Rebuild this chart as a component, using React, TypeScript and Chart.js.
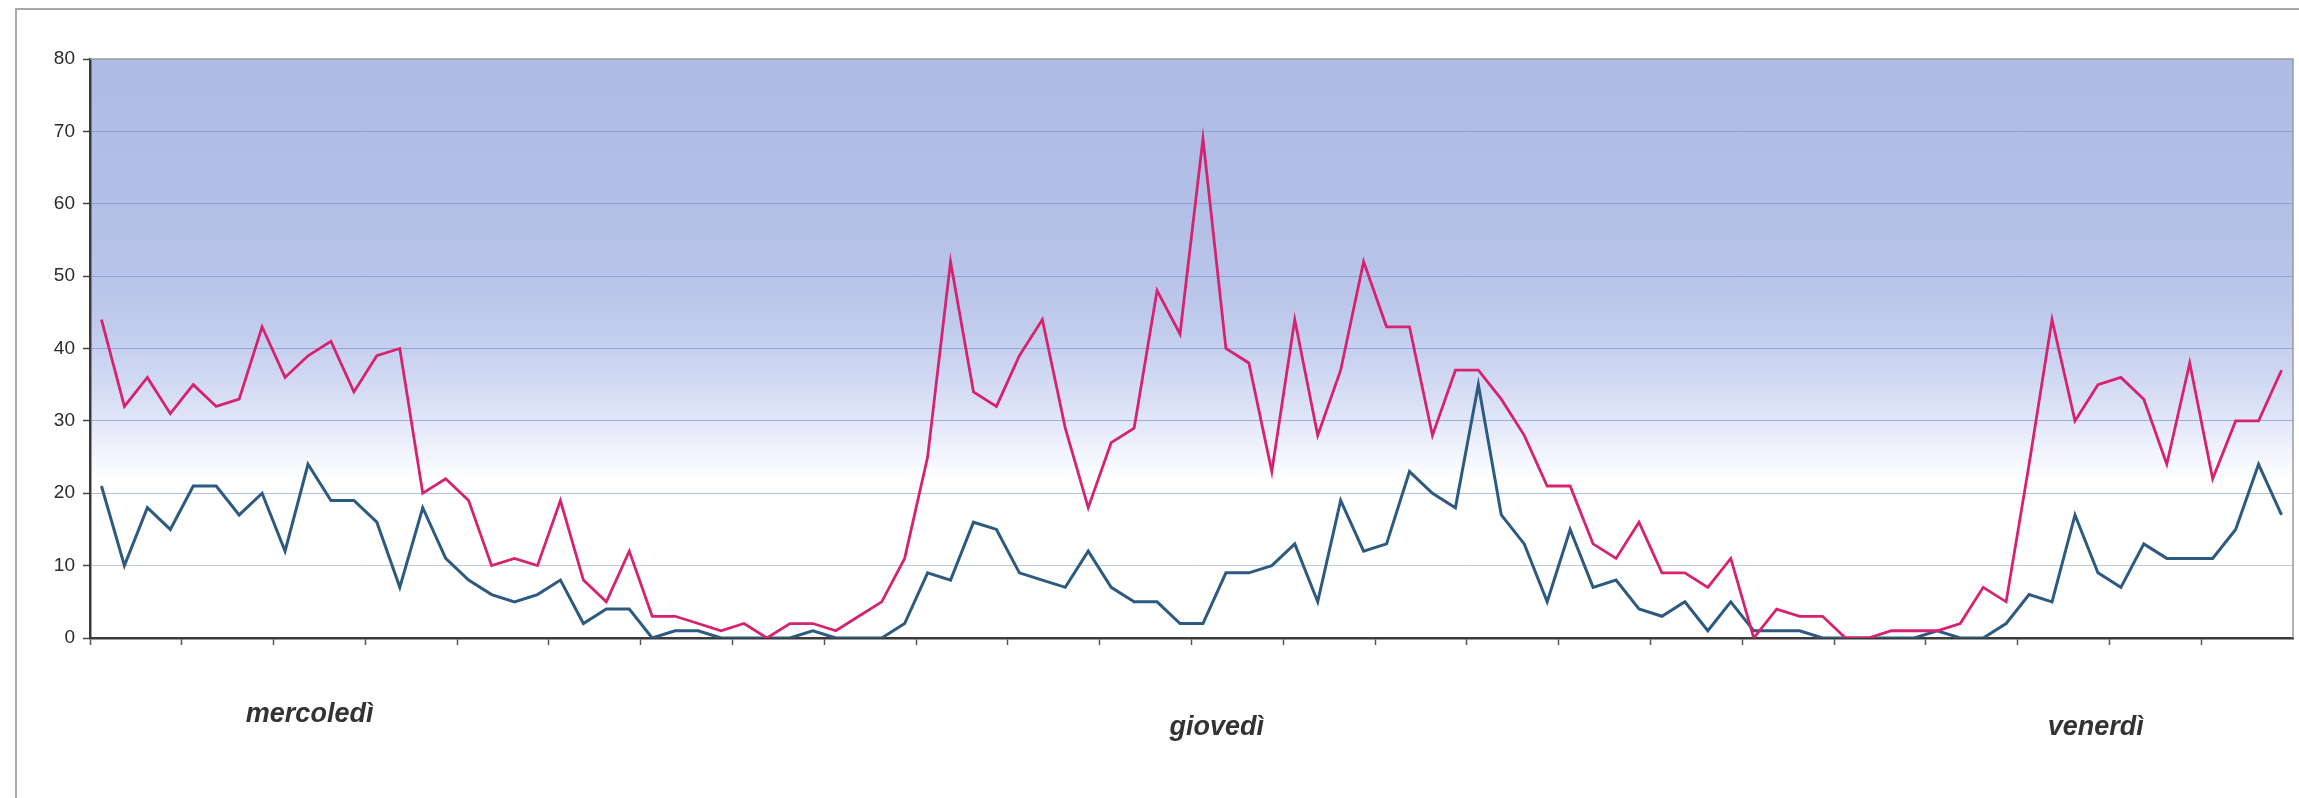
import React, { useEffect, useRef } from "react";
import { Chart, registerables } from "chart.js";

Chart.register(...registerables);

// 96 time slots across three days
const categories: string[] = Array.from({ length: 96 }, (_, i) => String(i + 1));

const pinkValues: number[] = [
  44, 32, 36, 31, 35, 32, 33, 43, 36, 39,
  41, 34, 39, 40, 20, 22, 19, 10, 11, 10,
  19, 8, 5, 12, 3, 3, 2, 1, 2, 0,
  2, 2, 1, 3, 5, 11, 25, 52, 34, 32,
  39, 44, 29, 18, 27, 29, 48, 42, 69, 40,
  38, 23, 44, 28, 37, 52, 43, 43, 28, 37,
  37, 33, 28, 21, 21, 13, 11, 16, 9, 9,
  7, 11, 0, 4, 3, 3, 0, 0, 1, 1,
  1, 2, 7, 5, 24, 44, 30, 35, 36, 33,
  24, 38, 22, 30, 30, 37,
];

const blueValues: number[] = [
  21, 10, 18, 15, 21, 21, 17, 20, 12, 24,
  19, 19, 16, 7, 18, 11, 8, 6, 5, 6,
  8, 2, 4, 4, 0, 1, 1, 0, 0, 0,
  0, 1, 0, 0, 0, 2, 9, 8, 16, 15,
  9, 8, 7, 12, 7, 5, 5, 2, 2, 9,
  9, 10, 13, 5, 19, 12, 13, 23, 20, 18,
  35, 17, 13, 5, 15, 7, 8, 4, 3, 5,
  1, 5, 1, 1, 1, 0, 0, 0, 0, 0,
  1, 0, 0, 2, 6, 5, 17, 9, 7, 13,
  11, 11, 11, 15, 24, 17,
];

const dayLabels: string[] = ["mercoledì", "giovedì", "venerdì"];
const dayCategoryPos: number[] = [9.07, 48.6, 86.9];

const Y_MIN = 0;
const Y_MAX = 80;
const Y_STEP = 10;

const bgPlugin = {
  id: "bgGradient",
  beforeDraw(chart: any) {
    const { ctx, chartArea, scales } = chart;
    const y = scales.y;
    const top = y.getPixelForValue(80);
    const bottom = y.getPixelForValue(0);
    const g = ctx.createLinearGradient(0, top, 0, bottom);
    const stop = (v: number, c: string) => g.addColorStop((80 - v) / 80, c);
    stop(80, "rgb(174,187,228)");
    stop(60, "rgb(178,191,230)");
    stop(47, "rgb(186,198,234)");
    stop(40, "rgb(198,208,239)");
    stop(33, "rgb(216,223,245)");
    stop(27, "rgb(236,240,251)");
    stop(22, "rgb(255,255,255)");
    stop(0, "rgb(255,255,255)");
    ctx.save();
    ctx.fillStyle = g;
    ctx.fillRect(chartArea.left, chartArea.top, chartArea.right - chartArea.left, chartArea.bottom - chartArea.top);
    ctx.restore();
  },
  beforeDatasetsDraw(chart: any) {
    const { ctx, chartArea } = chart;
    ctx.save();
    ctx.strokeStyle = "#9a9a9a";
    ctx.lineWidth = 1.5;
    ctx.beginPath();
    ctx.moveTo(chartArea.left, chartArea.top);
    ctx.lineTo(chartArea.right, chartArea.top);
    ctx.lineTo(chartArea.right, chartArea.bottom);
    ctx.stroke();
    ctx.restore();
  },
  afterDraw(chart: any) {
    const { ctx, chartArea, scales } = chart;
    const x = scales.x;
    ctx.save();
    ctx.fillStyle = "#333333";
    ctx.font = "italic bold 27px 'Liberation Sans', Arial, sans-serif";
    ctx.textAlign = "center";
    ctx.textBaseline = "alphabetic";
    dayLabels.forEach((lab, i) => {
      const px = x.getPixelForValue(dayCategoryPos[i]);
      const py = chartArea.bottom + (i === 0 ? 84 : 97);
      ctx.fillText(lab, px, py);
    });
    ctx.restore();
  },
};

export default function App() {
  const canvasRef = useRef<HTMLCanvasElement | null>(null);

  useEffect(() => {
    const canvas = canvasRef.current;
    if (!canvas) return;
    const chart = new Chart(canvas, {
      type: "line",
      data: {
        labels: categories,
        datasets: [
          {
            label: "serie 1",
            data: pinkValues,
            borderColor: "#d6226f",
            borderWidth: 2.8,
            pointRadius: 0,
            tension: 0,
            fill: false,
          },
          {
            label: "serie 2",
            data: blueValues,
            borderColor: "#2c5a80",
            borderWidth: 3,
            pointRadius: 0,
            tension: 0,
            fill: false,
          },
        ],
      },
      options: {
        responsive: false,
        animation: false,
        devicePixelRatio: 1,
        layout: { padding: { top: 59, right: 6, left: 0, bottom: 0 } },
        plugins: {
          legend: { display: false },
          tooltip: { enabled: false },
          title: { display: false },
        },
        scales: {
          x: {
            type: "category",
            offset: true,
            grid: {
              offset: true,
              drawOnChartArea: false,
              drawTicks: true,
              tickLength: 7,
              tickWidth: 1.5,
              tickColor: (c: any) => (c.index % 4 === 0 ? "#555555" : "rgba(0,0,0,0)"),
              color: "rgba(0,0,0,0)",
            },
            border: { display: true, color: "#3a3a3a", width: 2.5 },
            ticks: { display: false, autoSkip: false },
            afterFit: (scale: any) => {
              scale.height = 160;
            },
          },
          y: {
            min: Y_MIN,
            max: Y_MAX,
            ticks: {
              stepSize: Y_STEP,
              color: "#2a2a2a",
              padding: 8,
              font: { family: "'Liberation Sans', Arial, sans-serif", size: 19 },
            },
            grid: {
              drawTicks: true,
              tickLength: 7,
              tickColor: "#444444",
              tickWidth: 1.5,
              lineWidth: 1,
              color: (c: any) => {
                const v = c.tick ? c.tick.value : 0;
                if (v === 0 || v === 80) return "rgba(0,0,0,0)";
                if (v === 10) return "rgba(175,190,222,0.8)";
                if (v === 20) return "rgba(155,175,222,0.8)";
                return "rgba(125,148,210,0.7)";
              },
            },
            border: { display: true, color: "#3a3a3a", width: 2.5 },
            afterFit: (scale: any) => {
              scale.width = 90;
            },
          },
        },
      },
      plugins: [bgPlugin],
    } as any);
    return () => chart.destroy();
  }, []);

  return (
    <div
      style={{
        position: "fixed",
        left: 0,
        top: 0,
        width: 2299,
        height: 798,
        overflow: "hidden",
        background: "#ffffff",
      }}
    >
      <div
        style={{
          position: "absolute",
          left: 15,
          top: 8,
          width: 2400,
          height: 900,
          border: "2px solid #a8a8a8",
          boxSizing: "border-box",
        }}
      />
      <canvas
        ref={canvasRef}
        width={2299}
        height={798}
        style={{ position: "absolute", left: 0, top: 0, width: 2299, height: 798 }}
      />
    </div>
  );
}
